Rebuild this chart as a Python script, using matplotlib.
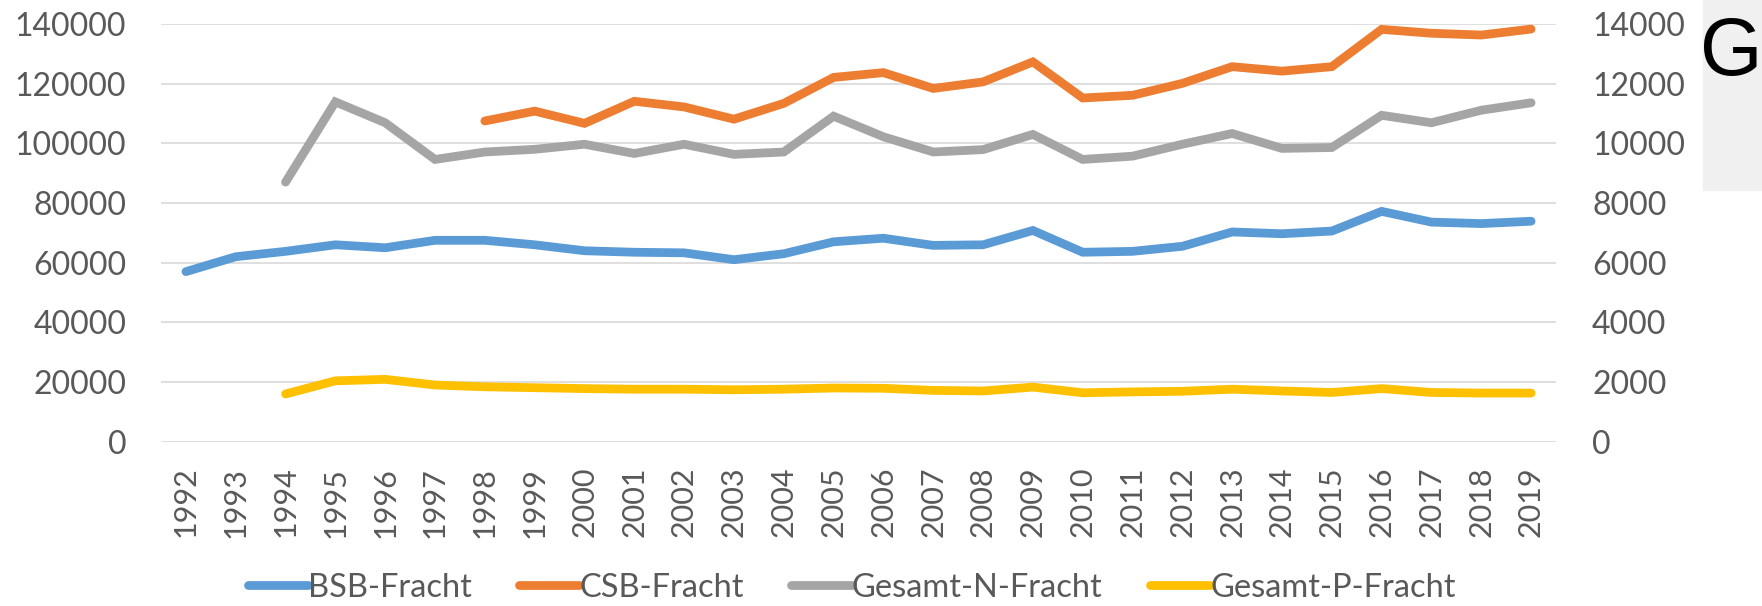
import numpy as np
import matplotlib
matplotlib.use("Agg")
import matplotlib.pyplot as plt
from matplotlib.patches import Rectangle

# ── data ─────────────────────────────────────────────────────────────────────
years = [str(y) for y in range(1992, 2020)]

# left axis
bsb = [57000, 62000, 63800, 66000, 65000, 67500, 67500, 66000, 64000, 63500,
       63300, 61000, 63000, 67000, 68200, 65800, 66000, 70800, 63500, 63800,
       65500, 70300, 69700, 70600, 77200, 73600, 73100, 73900]
csb = [None] * 6 + [107500, 110800, 106700, 114100, 112200, 108100, 113400,
                    122100, 123700, 118400, 120600, 127300, 115200, 116100,
                    120100, 125700, 124200, 125700, 138200, 136900, 136300,
                    138300]
# right axis
ges_n = [None] * 2 + [8700, 11390, 10690, 9460, 9710, 9800, 9970, 9660, 9970,
                      9630, 9710, 10910, 10220, 9710, 9790, 10300, 9460, 9570,
                      9970, 10330, 9830, 9860, 10940, 10690, 11110, 11360]
ges_p = [None] * 2 + [1600, 2040, 2090, 1900, 1840, 1810, 1780, 1760, 1760,
                      1740, 1760, 1800, 1790, 1720, 1700, 1830, 1640, 1670,
                      1690, 1760, 1700, 1650, 1780, 1650, 1630, 1630]


def arr(v):
    return np.array([np.nan if x is None else x for x in v], dtype=float)


FONT = "Lato"
TICK_COLOR = "#595959"
LW = 6.3

fig = plt.figure(figsize=(17.62, 6.06), dpi=100)
ax = fig.add_axes([161 / 1762, 1 - 441.7 / 606, (1556 - 161) / 1762, (441.7 - 24) / 606])
ax2 = ax.twinx()

x = np.arange(len(years))
l1, = ax.plot(x, arr(bsb), color="#5B9BD5", lw=LW, solid_capstyle="round",
              solid_joinstyle="miter", label="BSB-Fracht", zorder=3)
l2, = ax.plot(x, arr(csb), color="#ED7D31", lw=LW, solid_capstyle="round",
              solid_joinstyle="miter", label="CSB-Fracht", zorder=3)
l3, = ax2.plot(x, arr(ges_n), color="#A5A5A5", lw=LW, solid_capstyle="round",
               solid_joinstyle="miter", label="Gesamt-N-Fracht", zorder=3)
l4, = ax2.plot(x, arr(ges_p), color="#FFC000", lw=LW, solid_capstyle="round",
               solid_joinstyle="miter", label="Gesamt-P-Fracht", zorder=3)

ax.set_xlim(-0.5, len(years) - 0.5)
ax.set_ylim(0, 140000)
ax2.set_ylim(0, 14000)
ax.set_yticks(np.arange(0, 140001, 20000))
ax2.set_yticks(np.arange(0, 14001, 2000))
ax.set_xticks(x)
ax.set_xticklabels(years, rotation=90, fontfamily=FONT, fontsize=22, color=TICK_COLOR)
for t in ax.get_yticklabels():
    t.set_fontfamily(FONT)
for t in ax2.get_yticklabels():
    t.set_fontfamily(FONT)
ax.tick_params(axis="y", length=0, pad=25, labelsize=23, labelcolor=TICK_COLOR)
ax2.tick_params(axis="y", length=0, pad=26, labelsize=23, labelcolor=TICK_COLOR)
ax.tick_params(axis="x", length=0, pad=18)

ax.grid(axis="y", color="#D9D9D9", lw=1.2, zorder=0)
ax.set_axisbelow(True)
for a in (ax, ax2):
    for s in a.spines.values():
        s.set_visible(False)

fig.legend(handles=[l1, l2, l3, l4], loc="center", bbox_to_anchor=(0.4833, 0.03),
           ncol=4, frameon=False, handlelength=1.85, handletextpad=0.0,
           columnspacing=1.45, prop={"family": FONT, "size": 23.5},
           labelcolor=TICK_COLOR)

# cropped panel on the right edge
fig.patches.append(Rectangle((1703 / 1762, 1 - 190 / 606), 60 / 1762, 190 / 606,
                             transform=fig.transFigure, color="#F0F0F0", zorder=0))
fig.text(1700 / 1762, 1 - 54 / 606, "G", fontsize=58, family="Liberation Sans",
         ha="left", va="center", color="black")

fig.savefig("out.png", dpi=100)
